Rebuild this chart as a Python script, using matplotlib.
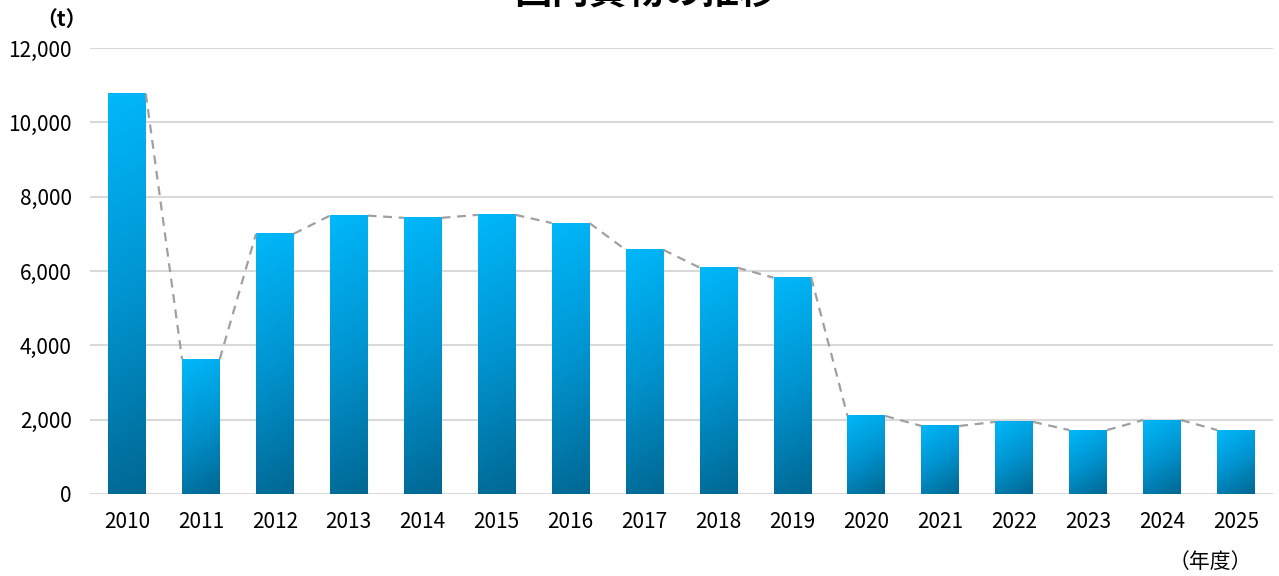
import numpy as np
import matplotlib
matplotlib.use("Agg")
import matplotlib.pyplot as plt
from matplotlib.colors import LinearSegmentedColormap

plt.rcParams['font.family'] = ['Noto Sans CJK JP', 'DejaVu Sans']

years = ['2010', '2011', '2012', '2013', '2014', '2015', '2016', '2017',
         '2018', '2019', '2020', '2021', '2022', '2023', '2024', '2025']
values = [10770, 3630, 7000, 7490, 7430, 7510, 7290, 6570,
          6090, 5820, 2100, 1830, 1940, 1720, 1990, 1720]
yticks = [0, 2000, 4000, 6000, 8000, 10000, 12000]
title = '国内貨物の推移'

W, H = 1279, 576
fig = plt.figure(figsize=(W / 100, H / 100), dpi=100)
ax = fig.add_axes([90 / W, 1 - 494 / H, (1273 - 90) / W, (494 - 48) / H])

cmap = LinearSegmentedColormap.from_list('g', ['#00B8FA', '#0094D0', '#006792'])
bw = 0.51
ymax = 12000
px_per_unit_y = (494 - 48) / ymax
bw_px = bw * (1273 - 90) / 16

x = np.arange(len(years))
for i, v in enumerate(values):
    h_px = v * px_per_unit_y
    ny, nx = 200, 40
    yn = np.linspace(1, 0, ny)[:, None]   # row 0 = top
    xn = np.linspace(0, 1, nx)[None, :]
    k = 0.6
    t = ((1 - yn) * h_px + k * xn * bw_px) / (h_px + k * bw_px)
    ax.imshow(t, cmap=cmap, vmin=0, vmax=1, aspect='auto',
              extent=[i - bw / 2, i + bw / 2, 0, v], origin='upper',
              interpolation='bilinear', zorder=2)

# series lines (connect right top of bar to left top of next bar)
for i in range(len(values) - 1):
    ax.plot([i + bw / 2, i + 1 - bw / 2], [values[i], values[i + 1]],
            color='#A0A0A0', lw=1.6, ls=(0, (4, 3)), zorder=3)

ax.set_xlim(-0.5, len(years) - 0.5)
ax.set_ylim(0, ymax)
ax.set_yticks(yticks)
ax.set_yticklabels([f'{t:,}' for t in yticks], fontsize=15)
ax.set_xticks(x)
ax.set_xticklabels(years, fontsize=15)
ax.tick_params(length=0, pad=13, axis='y')
ax.tick_params(length=0, pad=12, axis='x')
for s in ax.spines.values():
    s.set_visible(False)
ax.grid(axis='y', color='#D9D9D9', lw=1.5, zorder=0)
ax.set_axisbelow(True)

fig.text(61 / W, 1 - 19 / H, '（t）', ha='center', va='center', fontsize=15,
         fontweight='bold')
fig.text(1210 / W, 1 - 562 / H, '（年度）', ha='center', va='center', fontsize=15)
fig.text(645 / W, 1 - 12 / H, title, ha='center', va='bottom',
         fontsize=27, fontweight='bold')

fig.savefig('out.png', dpi=100)
